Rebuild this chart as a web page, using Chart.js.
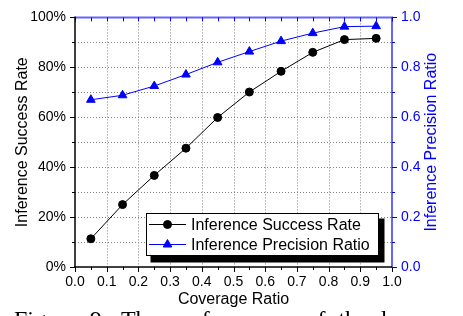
<!DOCTYPE html>
<html>
<head>
<meta charset="utf-8">
<script src="https://cdn.jsdelivr.net/npm/chart.js@4/dist/chart.umd.min.js"></script>
<style>
html,body{margin:0;padding:0;background:#fff;overflow:hidden;}
#wrap{position:relative;width:463px;height:316px;overflow:hidden;}
#c{position:absolute;left:0;top:0;}
#cap{position:absolute;left:14px;top:307px;font-family:"Liberation Serif","Times New Roman",serif;font-size:24px;line-height:24px;white-space:nowrap;word-spacing:7px;color:#000;}
</style>
</head>
<body>
<div id="wrap">
<canvas id="c" width="463" height="316"></canvas>
<div id="cap">Figure 9: The performance of the la</div>
</div>
<script>
const coverage = [0.05, 0.15, 0.25, 0.35, 0.45, 0.55, 0.65, 0.75, 0.85, 0.95];
const successRate = [11.3, 25.0, 36.7, 47.6, 59.9, 70.1, 78.4, 86.0, 91.1, 91.6];
const precisionRatio = [0.670, 0.688, 0.725, 0.771, 0.820, 0.863, 0.905, 0.937, 0.963, 0.965];
const seriesNames = ['Inference Success Rate', 'Inference Precision Ratio'];
const xTitle = 'Coverage Ratio';
const yTitle = 'Inference Success Rate';
const y1Title = 'Inference Precision Ratio';

const FONT = '"Liberation Sans", Arial, sans-serif';
const BLUE = '#0000ff';
const AXBLUE = 'rgba(0,0,255,0.6)';

const seg = (ctx, x0, y0, x1, y1_) => { ctx.beginPath(); ctx.moveTo(x0, y0); ctx.lineTo(x1, y1_); ctx.stroke(); };

const gridPlugin = {
  id: 'dotgrid',
  beforeDatasetsDraw(chart) {
    const ctx = chart.ctx;
    const {left, right, top, bottom} = chart.chartArea;
    const {x, y} = chart.scales;
    ctx.save();
    ctx.strokeStyle = '#808080';
    ctx.lineWidth = 1;
    ctx.setLineDash([1, 2]);
    for (let i = 1; i < 10; i++) {
      const px = Math.round(x.getPixelForValue(i / 10)) + 0.5;
      seg(ctx, px, top, px, bottom);
      const py = Math.round(y.getPixelForValue(i * 10)) + 0.5;
      seg(ctx, left, py, right, py);
    }
    ctx.restore();
  }
};

const decor = {
  id: 'decor',
  afterDatasetsDraw(chart) {
    const ctx = chart.ctx;
    const {left, right, top, bottom} = chart.chartArea;
    const {x, y, y1} = chart.scales;
    ctx.save();
    ctx.lineWidth = 1;
    for (let i = 0; i <= 20; i++) {
      const px = Math.round(x.getPixelForValue(i * 0.05)) + 0.5;
      ctx.strokeStyle = '#000';
      seg(ctx, px, bottom, px, bottom + (i % 2 === 0 ? 5 : 3));
      ctx.strokeStyle = BLUE;
      seg(ctx, px, top, px, top + 4);
    }
    for (let i = 0; i <= 10; i++) {
      const py = Math.round(y.getPixelForValue(i * 10)) + 0.5;
      ctx.strokeStyle = '#000';
      seg(ctx, left - (i % 2 === 0 ? 5 : 3), py, left, py);
      const py1 = Math.round(y1.getPixelForValue(i / 10)) + 0.5;
      ctx.strokeStyle = BLUE;
      seg(ctx, right, py1, right + (i % 2 === 0 ? 5 : 3), py1);
    }
    ctx.lineWidth = 2;
    ctx.strokeStyle = AXBLUE;
    seg(ctx, left, top, right + 1, top);
    seg(ctx, right, top, right, bottom + 1);
    ctx.strokeStyle = '#000';
    ctx.lineWidth = 1.5;
    seg(ctx, left, top - 1, left, bottom);
    seg(ctx, left - 1, bottom, right, bottom);

    ctx.font = '16px ' + FONT;
    ctx.textAlign = 'center';
    ctx.textBaseline = 'middle';
    ctx.fillStyle = '#000';
    ctx.fillText(xTitle, (left + right) / 2, 300);
    ctx.save();
    ctx.translate(23, (top + bottom) / 2);
    ctx.rotate(-Math.PI / 2);
    ctx.fillText(yTitle, 0, 0);
    ctx.restore();
    ctx.save();
    ctx.fillStyle = BLUE;
    ctx.translate(432, (top + bottom) / 2);
    ctx.rotate(-Math.PI / 2);
    ctx.fillText(y1Title, 0, 0);
    ctx.restore();

    const bx = 146.5, by = 213.5, bw = 232, bh = 42;
    ctx.fillStyle = '#000';
    ctx.fillRect(bx + 4, by + 5, bw + 2, bh + 2);
    ctx.fillStyle = '#fff';
    ctx.fillRect(bx, by, bw, bh);
    ctx.lineWidth = 1;
    ctx.strokeStyle = '#000';
    ctx.strokeRect(bx, by, bw, bh);
    ctx.font = '16px ' + FONT;
    ctx.textAlign = 'left';
    ctx.textBaseline = 'middle';
    const rows = [by + 11, by + 31];
    chart.data.datasets.forEach((ds, i) => {
      const ry = rows[i];
      ctx.strokeStyle = ds.borderColor;
      ctx.lineWidth = 1;
      seg(ctx, 149, ry, 186, ry);
      ctx.fillStyle = ds.pointBackgroundColor;
      Chart.helpers.drawPoint(ctx, {pointStyle: ds.pointStyle, radius: ds.pointRadius, borderWidth: 1}, 167.5, ry);
      ctx.fillStyle = '#000';
      ctx.fillText(ds.label, 191, ry + 1);
    });
    ctx.restore();
  }
};

new Chart(document.getElementById('c'), {
  type: 'line',
  data: {
    datasets: [
      {
        label: seriesNames[0],
        data: coverage.map((c, i) => ({x: c, y: successRate[i]})),
        yAxisID: 'y',
        borderColor: '#000',
        backgroundColor: '#000',
        borderWidth: 1,
        pointStyle: 'circle',
        pointRadius: 4,
        pointBorderWidth: 1,
        pointBackgroundColor: '#000',
        pointBorderColor: '#000'
      },
      {
        label: seriesNames[1],
        data: coverage.map((c, i) => ({x: c, y: precisionRatio[i]})),
        yAxisID: 'y1',
        borderColor: BLUE,
        backgroundColor: BLUE,
        borderWidth: 1,
        pointStyle: 'triangle',
        pointRadius: 5,
        pointBorderWidth: 1,
        pointBackgroundColor: BLUE,
        pointBorderColor: BLUE
      }
    ]
  },
  options: {
    responsive: false,
    animation: false,
    devicePixelRatio: 1,
    layout: {padding: {top: 12, left: 0, right: 0, bottom: 0}},
    plugins: {legend: {display: false}, tooltip: {enabled: false}},
    scales: {
      x: {
        type: 'linear', min: 0, max: 1,
        afterFit: s => { s.height = 49; },
        ticks: {stepSize: 0.1, padding: 7, color: '#000', font: {family: FONT, size: 14},
          callback: v => v.toFixed(1)},
        grid: {display: false, drawTicks: false},
        border: {display: false}
      },
      y: {
        position: 'left', min: 0, max: 100,
        afterFit: s => { s.width = 75; },
        ticks: {stepSize: 10, padding: 9, color: '#000', font: {family: FONT, size: 14},
          callback: (v, i) => (i % 2 === 0 ? Math.round(v) + '%' : null)},
        grid: {display: false, drawTicks: false},
        border: {display: false}
      },
      y1: {
        position: 'right', min: 0, max: 1,
        afterFit: s => { s.width = 71; },
        ticks: {stepSize: 0.1, padding: 9, color: BLUE, font: {family: FONT, size: 14},
          callback: (v, i) => (i % 2 === 0 ? v.toFixed(1) : null)},
        grid: {display: false, drawTicks: false},
        border: {display: false}
      }
    }
  },
  plugins: [gridPlugin, decor]
});
</script>
</body>
</html>
